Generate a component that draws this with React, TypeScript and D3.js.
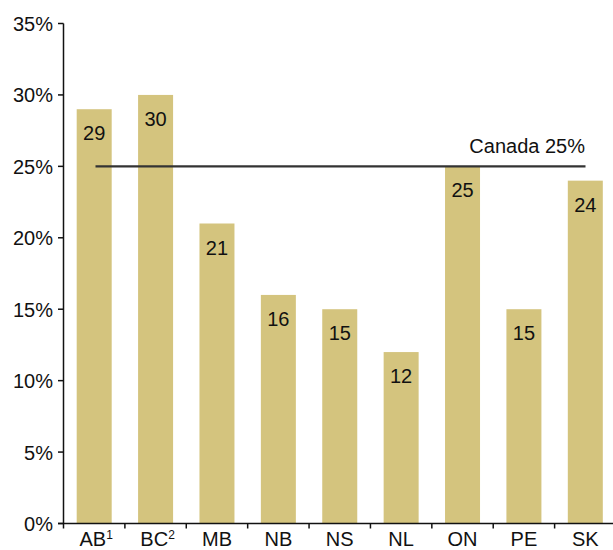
import React, { useEffect, useRef } from "react";
import * as d3 from "d3";

const provinces = ["AB", "BC", "MB", "NB", "NS", "NL", "ON", "PE", "SK"];
const footnotes = ["1", "2", "", "", "", "", "", "", ""];
const rates = [29, 30, 21, 16, 15, 12, 25, 15, 24];
const canadaRate = 25;
const canadaLabel = "Canada 25%";
const yTicks = [0, 5, 10, 15, 20, 25, 30, 35];

function App() {
  const ref = useRef<SVGSVGElement>(null);

  useEffect(() => {
    const width = 613,
      height = 550;
    const font = "'Liberation Sans', Arial, sans-serif";

    const svg = d3.select(ref.current);
    svg.selectAll("*").remove();

    const x = d3.scaleBand().domain(provinces).range([63.5, 616]).padding(0);
    const y = d3.scaleLinear().domain([0, 35]).range([523.5, 23.5]);
    const barW = 35;

    const data = provinces.map((p, i) => ({
      name: p,
      note: footnotes[i],
      value: rates[i],
    }));

    // bars
    svg
      .append("g")
      .selectAll("rect")
      .data(data)
      .enter()
      .append("rect")
      .attr("x", (d) => x(d.name)! + (x.bandwidth() - barW) / 2)
      .attr("y", (d) => y(d.value))
      .attr("width", barW)
      .attr("height", (d) => y(0) - y(d.value))
      .style("fill", "#d4c47e");

    // value labels
    svg
      .append("g")
      .selectAll("text")
      .data(data)
      .enter()
      .append("text")
      .attr("x", (d) => x(d.name)! + x.bandwidth() / 2)
      .attr("y", (d) => y(d.value) + 31)
      .attr("text-anchor", "middle")
      .style("font-family", font)
      .style("font-size", "20px")
      .style("fill", "#111")
      .text((d) => d.value);

    // canada line
    svg
      .append("line")
      .attr("x1", 95.5)
      .attr("x2", 585.5)
      .attr("y1", y(canadaRate))
      .attr("y2", y(canadaRate))
      .style("stroke", "#333")
      .style("stroke-width", 2.2);

    svg
      .append("text")
      .attr("x", 585)
      .attr("y", y(canadaRate) - 13)
      .attr("text-anchor", "end")
      .style("font-family", font)
      .style("font-size", "20px")
      .style("fill", "#111")
      .text(canadaLabel);

    // y axis
    const yAxis = svg.append("g");
    yAxis
      .append("line")
      .attr("x1", 63.5)
      .attr("x2", 63.5)
      .attr("y1", y(35))
      .attr("y2", y(0))
      .style("stroke", "#111")
      .style("stroke-width", 1.5);
    yAxis
      .selectAll("line.tick")
      .data(yTicks)
      .enter()
      .append("line")
      .attr("class", "tick")
      .attr("x1", 58)
      .attr("x2", 63.5)
      .attr("y1", (d) => y(d))
      .attr("y2", (d) => y(d))
      .style("stroke", "#111")
      .style("stroke-width", 1.5);
    yAxis
      .selectAll("text")
      .data(yTicks)
      .enter()
      .append("text")
      .attr("x", 53)
      .attr("y", (d) => y(d) + 7.5)
      .attr("text-anchor", "end")
      .style("font-family", font)
      .style("font-size", "20px")
      .style("fill", "#111")
      .text((d) => d + "%");

    // x axis
    const xAxis = svg.append("g");
    xAxis
      .append("line")
      .attr("x1", 58)
      .attr("x2", width)
      .attr("y1", y(0))
      .attr("y2", y(0))
      .style("stroke", "#111")
      .style("stroke-width", 1.5);
    xAxis
      .selectAll("line.tick")
      .data(provinces)
      .enter()
      .append("line")
      .attr("class", "tick")
      .attr("x1", (d) => x(d)!)
      .attr("x2", (d) => x(d)!)
      .attr("y1", y(0))
      .attr("y2", y(0) + 5)
      .style("stroke", "#111")
      .style("stroke-width", 1.5);
    const labels = xAxis
      .selectAll("text")
      .data(data)
      .enter()
      .append("text")
      .attr("x", (d) => x(d.name)! + x.bandwidth() / 2 + (d.note ? 2 : 0))
      .attr("y", height - 4)
      .attr("text-anchor", "middle")
      .style("font-family", font)
      .style("font-size", "20px")
      .style("fill", "#111");
    labels.append("tspan").text((d) => d.name);
    labels
      .append("tspan")
      .attr("dy", -7)
      .style("font-size", "12px")
      .text((d) => d.note);
  }, []);

  return (
    <svg
      ref={ref}
      width={613}
      height={550}
      style={{ position: "absolute", left: 0, top: 0, background: "#fff" }}
    />
  );
}

export default App;
